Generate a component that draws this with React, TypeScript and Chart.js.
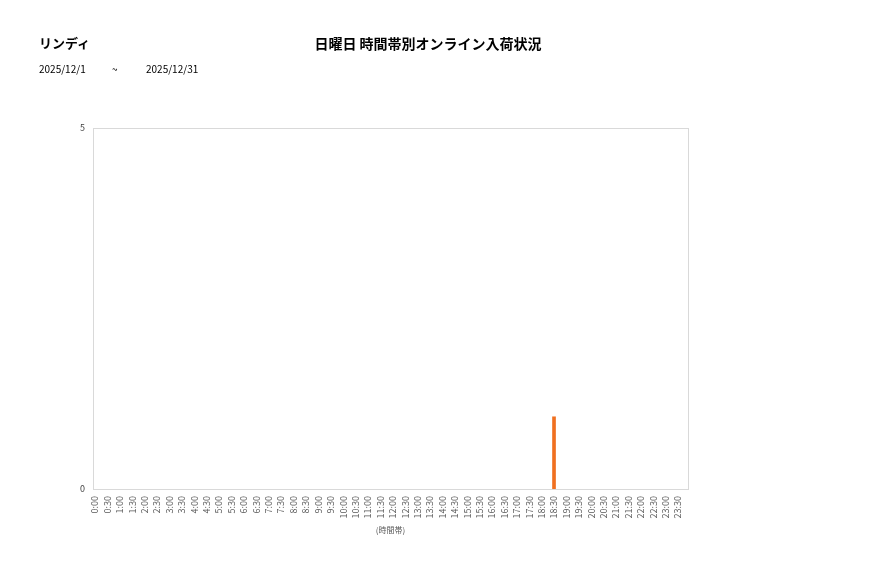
import { useEffect, useRef } from "react";
import { Chart, registerables, Plugin } from "chart.js";

Chart.register(...registerables);

// 30-minute time slots
const timeSlots: string[] = [
  "0:00", "0:30", "1:00", "1:30", "2:00", "2:30", "3:00", "3:30",
  "4:00", "4:30", "5:00", "5:30", "6:00", "6:30", "7:00", "7:30",
  "8:00", "8:30", "9:00", "9:30", "10:00", "10:30", "11:00", "11:30",
  "12:00", "12:30", "13:00", "13:30", "14:00", "14:30", "15:00", "15:30",
  "16:00", "16:30", "17:00", "17:30", "18:00", "18:30", "19:00", "19:30",
  "20:00", "20:30", "21:00", "21:30", "22:00", "22:30", "23:00", "23:30",
];

const arrivals: number[] = [
  0, 0, 0, 0, 0, 0, 0, 0,
  0, 0, 0, 0, 0, 0, 0, 0,
  0, 0, 0, 0, 0, 0, 0, 0,
  0, 0, 0, 0, 0, 0, 0, 0,
  0, 0, 0, 0, 0, 1, 0, 0,
  0, 0, 0, 0, 0, 0, 0, 0,
];

const yTicks: number[] = [0, 5];

const FONT = "'Noto Sans CJK JP', 'Noto Sans', sans-serif";

// draws the light frame round the plot area
const frame: Plugin<"bar"> = {
  id: "frame",
  afterDraw(chart) {
    const { ctx, chartArea } = chart;
    ctx.save();
    ctx.strokeStyle = "#d9d9d9";
    ctx.lineWidth = 1;
    ctx.strokeRect(
      Math.round(chartArea.left) + 0.5,
      Math.round(chartArea.top) + 0.5,
      Math.round(chartArea.right - chartArea.left),
      Math.round(chartArea.bottom - chartArea.top)
    );
    ctx.restore();
  },
};

const ArrivalChart = () => {
  const chartRef = useRef<HTMLCanvasElement | null>(null);
  const chartInstance = useRef<Chart | null>(null);

  useEffect(() => {
    if (!chartRef.current) return;
    if (chartInstance.current) chartInstance.current.destroy();

    const ctx = chartRef.current.getContext("2d");
    if (!ctx) return;

    chartInstance.current = new Chart(ctx, {
      type: "bar",
      data: {
        datasets: [
          {
            label: "入荷",
            // empty slots are left out so no hairline is drawn on the base
            data: arrivals.map((v, i) => ({ x: i, y: v === 0 ? null : v })),
            backgroundColor: "#f07020",
            barThickness: 3,
          },
        ],
      },
      options: {
        animation: false,
        responsive: false,
        layout: { padding: { left: 68, top: 128, right: 189, bottom: 39 } },
        plugins: {
          legend: { display: false },
          tooltip: { enabled: false },
        },
        scales: {
          x: {
            type: "linear",
            offset: false,
            min: -0.16,
            max: 47.8,
            grid: { display: false, drawTicks: false },
            border: { display: false },
            afterFit: (scale) => {
              scale.height = 50;
            },
            ticks: {
              stepSize: 1,
              includeBounds: false,
              autoSkip: false,
              maxTicksLimit: 100,
              minRotation: 90,
              maxRotation: 90,
              padding: 7,
              color: "#595959",
              font: { family: FONT, size: 9 },
              callback: (value) => timeSlots[Number(value)] ?? "",
            },
            title: {
              display: true,
              text: "(時間帯)",
              color: "#595959",
              font: { family: FONT, size: 8 },
            },
          },
          y: {
            min: 0,
            max: 5,
            grid: { display: false, drawTicks: false },
            border: { display: false },
            afterFit: (scale) => {
              scale.width = 25;
            },
            afterBuildTicks: (scale) => {
              scale.ticks = yTicks.map((v) => ({ value: v }));
            },
            ticks: {
              padding: 8,
              color: "#404040",
              font: { family: FONT, size: 9 },
            },
          },
        },
      },
      plugins: [frame],
    });

    return () => {
      if (chartInstance.current) {
        chartInstance.current.destroy();
        chartInstance.current = null;
      }
    };
  }, []);

  return <canvas ref={chartRef} width={877} height={578} style={{ position: "absolute", left: 0, top: 0 }} />;
};

export default function App() {
  useEffect(() => {
    document.body.style.margin = "0";
  }, []);

  return (
    <div style={{ position: "relative", width: 877, height: 578, background: "#fff", fontFamily: FONT, color: "#000" }}>
      <ArrivalChart />
      <div style={{ position: "absolute", left: 39, top: 34, fontSize: 13, fontWeight: "bold", lineHeight: "18px" }}>
        リンディ
      </div>
      <div style={{ position: "absolute", left: 228, width: 400, top: 33, textAlign: "center", fontSize: 14, fontWeight: "bold", lineHeight: "20px" }}>
        日曜日 時間帯別オンライン入荷状況
      </div>
      <div style={{ position: "absolute", left: 39, top: 62, fontSize: 10, lineHeight: "14px" }}>2025/12/1</div>
      <div style={{ position: "absolute", left: 112, top: 62, fontSize: 10, lineHeight: "14px" }}>~</div>
      <div style={{ position: "absolute", left: 146, top: 62, fontSize: 10, lineHeight: "14px" }}>2025/12/31</div>
    </div>
  );
}
